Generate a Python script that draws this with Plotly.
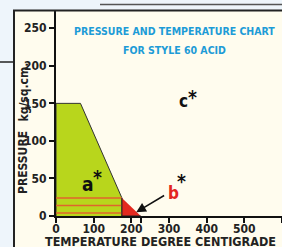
import plotly.graph_objects as go

# ---- data ----
zone_a_temp = [0, 0, 65, 175, 175]
zone_a_pres = [0, 150, 150, 24, 0]
zone_b_temp = [175, 175, 225]
zone_b_pres = [24, 0, 0]
band_pressures = [24, 14, 4]
band_temp_end = 175
x_tick_vals = [0, 100, 200, 225, 300, 400, 500, 600]
x_tick_text = ["0", "100", "200", "", "300", "400", "500", "600"]
y_tick_vals = [0, 50, 100, 150, 200, 250]
y_tick_text = ["0", "50", "100", "150", "200", "250"]
labels = [("a", 85, 42, "#111111", 19), ("b", 312, 30, "#e3261f", 17), ("c", 339, 153, "#111111", 17)]
stars = [(109, 52), (333, 46), (362, 159)]
title_lines = ["PRESSURE AND TEMPERATURE CHART", "FOR STYLE 60 ACID"]

FONT = "DejaVu Sans Condensed, Roboto Condensed, Arial Narrow, sans-serif"
W, H = 282, 247
L, R, T, B = 56, 0, 11, 31
PW, PH = W - L - R, H - T - B


def px(xp):
    return (xp - L) / PW


def py(yp):
    return (H - B - yp) / PH


fig = go.Figure()

fig.add_trace(go.Scatter(x=zone_a_temp, y=zone_a_pres, fill="toself", mode="lines",
                         fillcolor="#b8d61c", line=dict(color="#333333", width=1),
                         hoverinfo="skip", showlegend=False))
for p in band_pressures:
    fig.add_trace(go.Scatter(x=[0, band_temp_end], y=[p, p], mode="lines",
                             line=dict(color="#e0642c", width=1.5),
                             hoverinfo="skip", showlegend=False))
fig.add_trace(go.Scatter(x=zone_b_temp, y=zone_b_pres, fill="toself", mode="lines",
                         fillcolor="#e3291f", line=dict(color="#222222", width=1),
                         hoverinfo="skip", showlegend=False))

shapes = [
    dict(type="rect", xref="paper", yref="paper", x0=px(14), x1=px(W + 5), y0=py(H + 5), y1=py(11),
         fillcolor="#fffcee", line=dict(width=0), layer="below"),
    dict(type="line", xref="paper", yref="paper", x0=px(14), x1=px(14), y0=py(H + 5), y1=py(10),
         line=dict(color="#222222", width=2)),
    dict(type="line", xref="paper", yref="paper", x0=px(13), x1=px(W + 5), y0=py(10.5), y1=py(10.5),
         line=dict(color="#222222", width=2)),
    dict(type="line", xref="paper", yref="paper", x0=px(100), x1=px(W + 5), y0=py(4.5), y1=py(4.5),
         line=dict(color="#555555", width=1.5)),
    dict(type="line", xref="paper", yref="paper", x0=px(0), x1=px(14), y0=py(62), y1=py(62),
         line=dict(color="#222222", width=1.5)),
]

annotations = []
for txt, x, y, col, sz in labels:
    annotations.append(dict(x=x, y=y, xref="x", yref="y", text="<b>%s</b>" % txt, showarrow=False,
                            xanchor="center", yanchor="middle",
                            font=dict(family=FONT, size=sz, color=col)))
for x, y in stars:
    annotations.append(dict(x=x, y=y, xref="x", yref="y", text="<b>*</b>", showarrow=False,
                            xanchor="center", yanchor="middle",
                            font=dict(family=FONT, size=19, color="#111111")))
annotations.append(dict(x=213, y=5, xref="x", yref="y", ax=291, ay=28.5, axref="x", ayref="y",
                        text="", showarrow=True, arrowhead=2, arrowsize=1.3, arrowwidth=1.5,
                        arrowcolor="#111111"))
for i, line in enumerate(title_lines):
    annotations.append(dict(x=px(174), y=py(31 + 19 * i), xref="paper", yref="paper", text="<b>%s</b>" % line,
                            showarrow=False, font=dict(family=FONT, size=10.5, color="#1d9bd7"),
                            xanchor="center", yanchor="middle"))
annotations.append(dict(x=px(23), y=py(163), xref="paper", yref="paper", text="<b>PRESSURE</b>",
                        showarrow=False, textangle=-90, xanchor="center", yanchor="middle",
                        font=dict(family=FONT, size=12, color="#222222")))
annotations.append(dict(x=px(23), y=py(92.5), xref="paper", yref="paper", text="<b>kg/sq.cm.</b>",
                        showarrow=False, textangle=-90, xanchor="center", yanchor="middle",
                        font=dict(family=FONT, size=12, color="#222222")))
annotations.append(dict(x=px(160), y=py(241.5), xref="paper", yref="paper",
                        text="<b>TEMPERATURE DEGREE CENTIGRADE</b>", xanchor="center", yanchor="middle",
                        showarrow=False, font=dict(family=FONT, size=12.5, color="#222222")))

fig.update_layout(
    width=W, height=H,
    margin=dict(l=L, r=R, t=T, b=B, pad=0),
    paper_bgcolor="#eef5fb",
    plot_bgcolor="rgba(0,0,0,0)",
    shapes=shapes,
    annotations=annotations,
    showlegend=False,
)
tick_font = dict(family=FONT, size=12, color="#222222", weight="bold")
fig.update_xaxes(range=[0, 600], tickvals=x_tick_vals, ticktext=x_tick_text,
                 showgrid=False, zeroline=False, showline=True, linecolor="#111111", linewidth=2,
                 ticks="outside", ticklen=5, tickwidth=1.5, tickcolor="#111111",
                 ticklabelstandoff=-4,
                 tickfont=tick_font, fixedrange=True)
fig.update_yaxes(range=[0, 273], tickvals=y_tick_vals, ticktext=y_tick_text,
                 showgrid=False, zeroline=False, showline=True, linecolor="#111111", linewidth=2,
                 ticks="outside", ticklen=5, tickwidth=1.5, tickcolor="#111111",
                 tickfont=tick_font, fixedrange=True)

fig.write_html("out.html", config={"displayModeBar": False},
               post_script="document.body.style.margin='0';document.body.style.overflow='hidden';")
